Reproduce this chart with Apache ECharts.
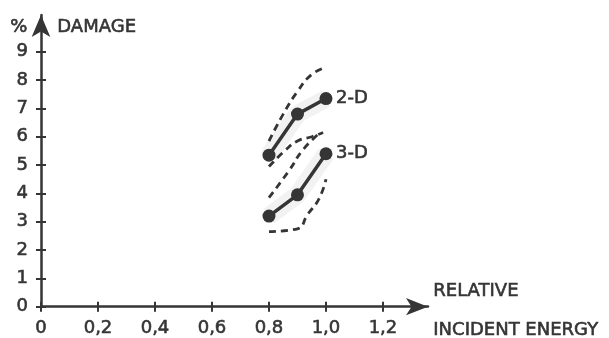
<!DOCTYPE html>
<html>
<head>
<meta charset="utf-8">
<script src="https://cdn.jsdelivr.net/npm/echarts@6/dist/echarts.min.js"></script>
<style>
  html, body { margin: 0; padding: 0; background: #fff; }
  #chart { width: 609px; height: 338px; }
</style>
</head>
<body>
<div id="chart"></div>
<script>
// values
var xTicks = [0, 0.2, 0.4, 0.6, 0.8, 1.0, 1.2];
var yTicks = [0, 1, 2, 3, 4, 5, 6, 7, 8, 9];
var energy = [0.8, 0.9, 1.0];
var damage2D = [5.35, 6.8, 7.35];
var damage3D = [3.2, 3.95, 5.4];
// dashed scatter bands
var upper2D = [[0.8, 5.85], [0.85, 6.8], [0.9, 7.6], [0.95, 8.2], [1.0, 8.45]];
var lower2D = [[0.8, 4.95], [0.855, 5.5], [0.9, 5.85], [0.95, 6.0], [0.99, 6.15]];
var upper3D = [[0.8, 3.85], [0.87, 4.8], [0.92, 5.55], [0.98, 6.15]];
var lower3D = [[0.8, 2.65], [0.9, 2.75], [0.935, 3.25], [0.975, 3.8], [1.0, 4.5]];

var ink = '#353535';
var font = 'DejaVu Sans';
var fsize = 18;
var thick = 0.6; // a bit of stroke to get the medium weight of the original lettering

function pairs(xs, ys) {
  return xs.map(function (x, i) { return [x, ys[i]]; });
}

function band(data) {
  return {
    type: 'line', data: data, smooth: true, symbol: 'none', silent: true,
    lineStyle: { color: ink, width: 2.8, type: [7, 5] }, z: 3
  };
}

function shade(data) {
  return {
    type: 'line', data: data, symbol: 'none', silent: true,
    lineStyle: { color: 'rgba(0,0,0,0.05)', width: 18 }, z: 1
  };
}

function main(data, name) {
  return {
    type: 'line', data: data, symbol: 'circle', symbolSize: 13,
    itemStyle: { color: ink }, lineStyle: { color: ink, width: 3.5 }, z: 5,
    endLabel: {
      show: true, formatter: name, color: ink, fontFamily: font, fontSize: fsize, distance: 10,
      textBorderColor: ink, textBorderWidth: thick
    }
  };
}

var chart = echarts.init(document.getElementById('chart'));

var xFmt = function (v) { return v === 0 ? '0' : v.toFixed(1).replace('.', ','); };
var txt = fsize + 'px "' + font + '"';

function label(text, left, top) {
  return { type: 'text', left: left, top: top, style: { text: text, fill: ink, font: txt, stroke: ink, lineWidth: thick } };
}

var option = {
  animation: false,
  grid: { left: 41, right: 181, top: 15, bottom: 30 },
  xAxis: [{
    type: 'value', min: 0, max: 1.358,
    axisLine: { lineStyle: { color: ink, width: 2.5 }, symbol: ['none', 'arrow'], symbolSize: [13, 22], symbolOffset: [0, 0] },
    axisTick: { show: true, length: 5, customValues: xTicks, lineStyle: { color: ink, width: 2 } },
    axisLabel: {
      customValues: xTicks, formatter: xFmt, color: ink, fontFamily: font, fontSize: fsize, margin: 13,
      textBorderColor: ink, textBorderWidth: thick
    },
    splitLine: { show: false }
  }, {
    type: 'value', min: 0, max: 1.358, position: 'bottom',
    axisLine: { show: false },
    axisTick: { show: true, inside: true, length: 5, customValues: xTicks, lineStyle: { color: ink, width: 2 } },
    axisLabel: { show: false },
    splitLine: { show: false }
  }],
  yAxis: [{
    type: 'value', min: 0, max: 10.3,
    axisLine: { lineStyle: { color: ink, width: 2.5 }, symbol: ['none', 'arrow'], symbolSize: [14, 22], symbolOffset: [0, 0] },
    axisTick: { show: true, length: 5, customValues: yTicks, lineStyle: { color: ink, width: 2 } },
    axisLabel: {
      customValues: yTicks, color: ink, fontFamily: font, fontSize: fsize, margin: 13,
      textBorderColor: ink, textBorderWidth: thick
    },
    splitLine: { show: false }
  }, {
    type: 'value', min: 0, max: 10.3, position: 'left',
    axisLine: { show: false },
    axisTick: { show: true, inside: true, length: 5, customValues: yTicks, lineStyle: { color: ink, width: 2 } },
    axisLabel: { show: false },
    splitLine: { show: false }
  }],
  series: [
    shade(pairs(energy, damage2D)),
    shade(pairs(energy, damage3D)),
    band(upper2D), band(lower2D), band(upper3D), band(lower3D),
    main(pairs(energy, damage2D), '2-D'),
    main(pairs(energy, damage3D), '3-D')
  ],
  graphic: [
    label('%', 10, 18),
    label('DAMAGE', 57, 18),
    label('RELATIVE', 433, 282),
    label('INCIDENT ENERGY', 433, 321)
  ]
};

chart.setOption(option);
</script>
</body>
</html>
